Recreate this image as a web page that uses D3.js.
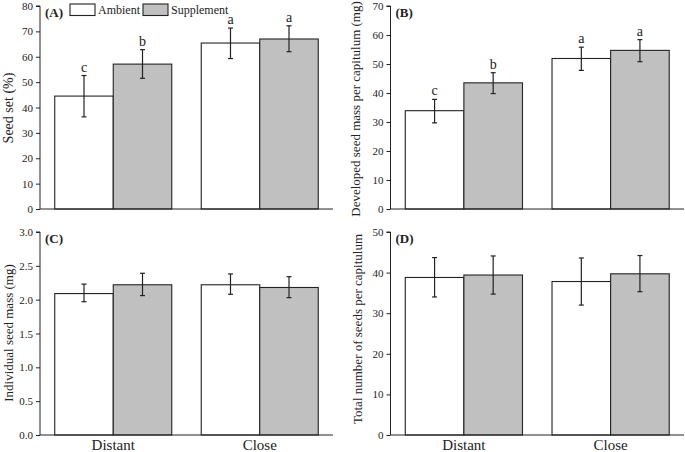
<!DOCTYPE html>
<html><head><meta charset="utf-8">
<script src="https://cdn.jsdelivr.net/npm/d3@7"></script>
<style>body{margin:0;background:#fff}svg{display:block}text{font-family:"Liberation Serif","Times New Roman",serif;fill:#222}</style>
</head><body><svg id="c" width="685" height="452"></svg>
<script>
const sites = ["Distant", "Close"];
const treatments = ["Ambient", "Supplement"];

// Panel A: Seed set (%)
const seedSetMean = [[44.5, 57.1], [65.4, 67.0]];
const seedSetLow  = [[36.3, 51.5], [59.3, 62.0]];
const seedSetHigh = [[52.6, 62.8], [71.3, 72.2]];
const seedSetLetters = [["c", "b"], ["a", "a"]];
const seedSetTicks = [0, 10, 20, 30, 40, 50, 60, 70, 80];

// Panel B: Developed seed mass per capitulum (mg)
const devMassMean = [[33.9, 43.5], [51.9, 54.7]];
const devMassLow  = [[29.7, 39.8], [47.8, 50.8]];
const devMassHigh = [[37.8, 47.0], [55.8, 58.4]];
const devMassLetters = [["c", "b"], ["a", "a"]];
const devMassTicks = [0, 10, 20, 30, 40, 50, 60, 70];

// Panel C: Individual seed mass (mg)
const indMassMean = [[2.09, 2.22], [2.22, 2.18]];
const indMassLow  = [[1.97, 2.06], [2.08, 2.03]];
const indMassHigh = [[2.23, 2.39], [2.38, 2.34]];
const indMassTicks = [0, 0.5, 1.0, 1.5, 2.0, 2.5, 3.0];

// Panel D: Total number of seeds per capitulum
const totalMean = [[38.8, 39.4], [37.8, 39.7]];
const totalLow  = [[34.0, 34.7], [32.0, 35.3]];
const totalHigh = [[43.7, 44.1], [43.6, 44.2]];
const totalTicks = [0, 10, 20, 30, 40, 50];

const svg = d3.select("#c");
const fills = {Ambient: "#ffffff", Supplement: "#c0c0c0"};

function panel(o) {
  const g = svg.append("g");
  const x0 = d3.scaleBand().domain(sites).range([o.left, o.right]).padding(0);
  const x1 = d3.scaleBand().domain(treatments).range([0, x0.bandwidth()]).paddingInner(0).paddingOuter(0.252);
  const y = d3.scaleLinear().domain([0, o.max]).range([o.bottom, o.top]);

  // y axis
  const ya = g.append("g").attr("transform", `translate(${o.left},0)`)
    .call(d3.axisLeft(y).tickValues(o.ticks).tickSize(4).tickPadding(3).tickFormat(o.fmt));
  ya.select(".domain").attr("stroke", "#222").attr("d", `M-4,${o.top}H0V${o.bottom}`);
  ya.selectAll(".tick line").attr("stroke", "#222");
  ya.selectAll("text").attr("font-size", 11).attr("font-family", '"Liberation Serif",serif').attr("fill", "#333");

  // bars
  sites.forEach((s, i) => {
    treatments.forEach((t, j) => {
      const bx = x0(s) + x1(t);
      const w = x1.bandwidth();
      g.append("rect").attr("x", bx).attr("y", y(o.mean[i][j]))
        .attr("width", w).attr("height", y(0) - y(o.mean[i][j]))
        .attr("fill", fills[t]).attr("stroke", "#222").attr("stroke-width", 1.1);
      const cx = bx + w / 2;
      g.append("line").attr("x1", cx).attr("x2", cx)
        .attr("y1", y(o.low[i][j])).attr("y2", y(o.high[i][j])).attr("stroke", "#222").attr("stroke-width", 1.2);
      [o.low[i][j], o.high[i][j]].forEach(v => {
        g.append("line").attr("x1", cx - 2.5).attr("x2", cx + 2.5)
          .attr("y1", y(v)).attr("y2", y(v)).attr("stroke", "#222").attr("stroke-width", 1.2);
      });
      if (o.letters) {
        g.append("text").attr("x", cx).attr("y", y(o.high[i][j]) - 4)
          .attr("text-anchor", "middle").attr("font-size", 14).text(o.letters[i][j]);
      }
    });
  });

  // x axis line
  g.append("line").attr("x1", o.left).attr("x2", o.right).attr("y1", y(0)).attr("y2", y(0))
    .attr("stroke", "#222").attr("stroke-width", 1);

  if (o.xlabels) {
    sites.forEach(s => {
      g.append("text").attr("x", x0(s) + x0.bandwidth() / 2).attr("y", o.bottom + 15)
        .attr("text-anchor", "middle").attr("font-size", 15).text(s);
    });
  }

  // panel label
  g.append("text").attr("x", o.left + 5).attr("y", o.top + 11).attr("font-size", 13)
    .attr("font-weight", "bold").text(o.label);

  // y title
  g.append("text").attr("transform", `translate(${o.titleX},${o.titleY}) rotate(-90)`)
    .attr("text-anchor", "middle").attr("font-size", o.titleSize).text(o.title);
  return {x0, x1, y};
}

panel({left: 40, right: 333, top: 6, bottom: 209, max: 80, ticks: seedSetTicks, fmt: d3.format("d"),
  mean: seedSetMean, low: seedSetLow, high: seedSetHigh, letters: seedSetLetters,
  label: "(A)", title: "Seed set (%)", titleX: 13, titleY: 108, titleSize: 14});
panel({left: 390.5, right: 684, top: 6, bottom: 209, max: 70, ticks: devMassTicks, fmt: d3.format("d"),
  mean: devMassMean, low: devMassLow, high: devMassHigh, letters: devMassLetters,
  label: "(B)", title: "Developed seed mass per capitulum (mg)", titleX: 360, titleY: 109, titleSize: 13});
panel({left: 40, right: 333, top: 232, bottom: 435, max: 3, ticks: indMassTicks, fmt: d3.format(".1f"),
  mean: indMassMean, low: indMassLow, high: indMassHigh, xlabels: true,
  label: "(C)", title: "Individual seed mass (mg)", titleX: 13, titleY: 333, titleSize: 13});
panel({left: 390.5, right: 684, top: 232, bottom: 435, max: 50, ticks: totalTicks, fmt: d3.format("d"),
  mean: totalMean, low: totalLow, high: totalHigh, xlabels: true,
  label: "(D)", title: "Total number of seeds per capitulum", titleX: 362, titleY: 329, titleSize: 13});

// legend
const legend = svg.append("g");
const legX = d3.scaleOrdinal().domain(treatments).range([70, 143]);
treatments.forEach(t => {
  legend.append("rect").attr("x", legX(t)).attr("y", 4).attr("width", 25).attr("height", 11.5)
    .attr("fill", fills[t]).attr("stroke", "#222").attr("stroke-width", 1.1);
  legend.append("text").attr("x", legX(t) + 28).attr("y", 14).attr("font-size", 12).text(t);
});
</script></body></html>
